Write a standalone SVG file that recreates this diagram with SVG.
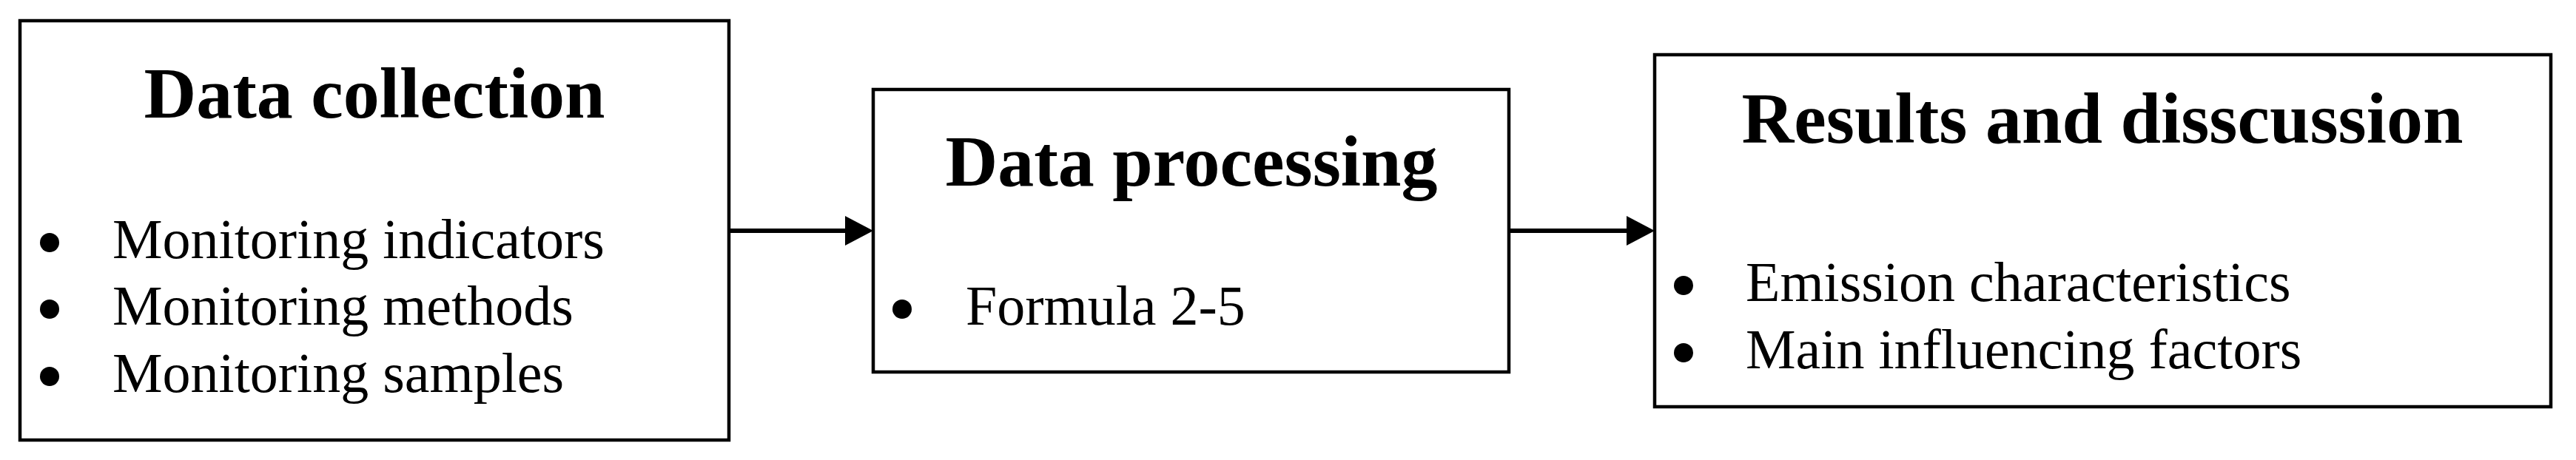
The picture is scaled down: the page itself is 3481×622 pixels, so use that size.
<svg xmlns="http://www.w3.org/2000/svg" width="3481" height="622" viewBox="0 0 3481 622">
  <style>
    .box { fill: #ffffff; stroke: #000000; stroke-width: 4.5; }
    .title { font-family: "Liberation Serif", "Times New Roman", serif; font-weight: bold; font-size: 98px; fill: #000000; text-anchor: middle; }
    .item { font-family: "Liberation Serif", "Times New Roman", serif; font-size: 76px; fill: #000000; }
    .dot { fill: #000000; }
    .conn { stroke: #000000; stroke-width: 6; fill: none; }
  </style>
  <defs>
    <marker id="arrow" markerUnits="userSpaceOnUse" markerWidth="38" markerHeight="40" refX="18" refY="20" orient="auto">
      <path d="M0,0 L38,20 L0,40 Z" fill="#000000"/>
    </marker>
  </defs>
  <rect x="0" y="0" width="3481" height="622" fill="#ffffff"/>

  <g id="node-data-collection">
    <rect class="box" x="27" y="28" width="958" height="567"/>
    <text class="title" x="506" y="159">Data collection</text>
    <circle class="dot" cx="67" cy="328" r="13"/>
    <circle class="dot" cx="67" cy="418" r="13"/>
    <circle class="dot" cx="67" cy="509" r="13"/>
    <text class="item" x="152" y="349">Monitoring indicators</text>
    <text class="item" x="152" y="439">Monitoring methods</text>
    <text class="item" x="152" y="530">Monitoring samples</text>
  </g>

  <g id="node-data-processing">
    <rect class="box" x="1180" y="121" width="859" height="382"/>
    <text class="title" x="1610" y="251">Data processing</text>
    <circle class="dot" cx="1219" cy="418" r="13"/>
    <text class="item" x="1305" y="439">Formula 2-5</text>
  </g>

  <g id="node-results">
    <rect class="box" x="2236" y="74" width="1211" height="476"/>
    <text class="title" x="2841" y="193">Results and disscussion</text>
    <circle class="dot" cx="2275" cy="386" r="13"/>
    <circle class="dot" cx="2275" cy="477" r="13"/>
    <text class="item" x="2359" y="407">Emission characteristics</text>
    <text class="item" x="2359" y="498">Main influencing factors</text>
  </g>

  <g id="connectors">
    <line class="conn" x1="985" y1="312" x2="1160" y2="312" marker-end="url(#arrow)"/>
    <line class="conn" x1="2039" y1="312" x2="2216" y2="312" marker-end="url(#arrow)"/>
  </g>
</svg>
